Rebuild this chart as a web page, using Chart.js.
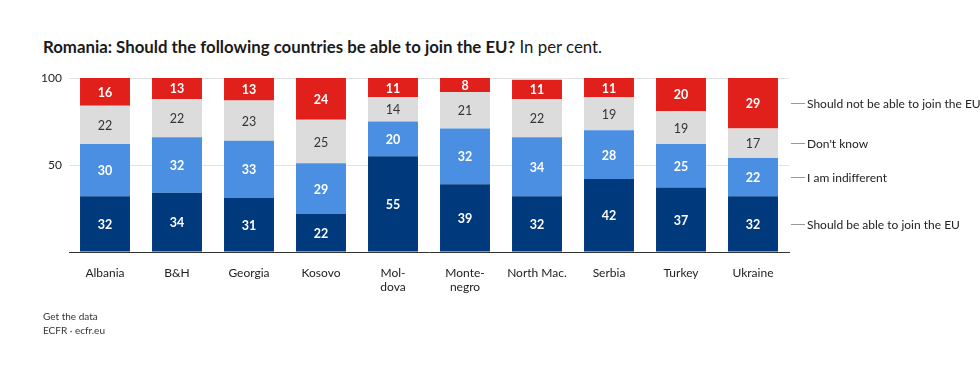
<!DOCTYPE html>
<html lang="en">
<head>
  <meta charset="UTF-8">
  <title>Romania: Should the following countries be able to join the EU?</title>
  <script src="https://cdn.jsdelivr.net/npm/chart.js"></script>
  <style>
    html, body { margin: 0; padding: 0; background: #fff; }
    body { width: 980px; height: 371px; position: relative; overflow: hidden; font-family: Lato, "Noto Sans", sans-serif; color: #1a1a1a; }
    #title { position: absolute; left: 43px; top: 36px; font-size: 16.8px; white-space: nowrap; }
    #title b { font-weight: 700; }
    #footer { position: absolute; left: 43px; top: 309px; font-size: 10px; line-height: 14px; color: #333; }
    #wrap { position: absolute; left: 0; top: 0; width: 980px; height: 371px; }
  </style>
</head>
<body>
  <div id="title"><b>Romania: Should the following countries be able to join the EU?</b> In per cent.</div>
  <div id="wrap"><canvas id="chart" width="980" height="371"></canvas></div>
  <div id="footer">Get the data<br>ECFR · ecfr.eu</div>

  <script>
    const countries = ["Albania", "B&H", "Georgia", "Kosovo", ["Mol-", "dova"], ["Monte-", "negro"], "North Mac.", "Serbia", "Turkey", "Ukraine"];
    const shouldJoin   = [32, 34, 31, 22, 55, 39, 32, 42, 37, 32];
    const indifferent  = [30, 32, 33, 29, 20, 32, 34, 28, 25, 22];
    const dontKnow     = [22, 22, 23, 25, 14, 21, 22, 19, 19, 17];
    const shouldNot    = [16, 13, 13, 24, 11, 8, 11, 11, 20, 29];
    const seriesNames  = ["Should be able to join the EU", "I am indifferent", "Don't know", "Should not be able to join the EU"];
    const yTicks = [50, 100];

    const colors = ["#003a7d", "#4a8fe2", "#dcdcdc", "#e1201c"];
    const textColors = ["#fff", "#fff", "#333", "#fff"];

    // numbers inside the segments + series names next to the last bar
    const labelPlugin = {
      id: "segLabels",
      afterDatasetsDraw(chart) {
        const ctx = chart.ctx;
        ctx.save();
        ctx.textAlign = "center";
        ctx.textBaseline = "middle";
        chart.data.datasets.forEach((ds, di) => {
          const meta = chart.getDatasetMeta(di);
          ctx.font = (di === 2 ? "400 " : "700 ") + "12.5px Lato, 'Noto Sans', sans-serif";
          ctx.fillStyle = textColors[di];
          meta.data.forEach((bar, i) => {
            const yMid = (bar.y + bar.base) / 2;
            ctx.fillText(String(ds.data[i]), bar.x, yMid + 1);
          });
          const last = meta.data[meta.data.length - 1];
          const yMid = (last.y + last.base) / 2;
          const xr = last.x + last.width / 2;
          ctx.strokeStyle = "#999";
          ctx.lineWidth = 1;
          ctx.beginPath();
          ctx.moveTo(xr + 13, Math.round(yMid) + 0.5);
          ctx.lineTo(xr + 27, Math.round(yMid) + 0.5);
          ctx.stroke();
          ctx.textAlign = "left";
          ctx.fillStyle = "#222";
          ctx.font = "400 12px Lato, 'Noto Sans', sans-serif";
          ctx.fillText(seriesNames[di], xr + 29, yMid + 1);
          ctx.textAlign = "center";
        });
        ctx.restore();
      }
    };

    new Chart(document.getElementById("chart"), {
      type: "bar",
      data: {
        labels: countries,
        datasets: [
          { label: seriesNames[0], data: shouldJoin, backgroundColor: colors[0] },
          { label: seriesNames[1], data: indifferent, backgroundColor: colors[1] },
          { label: seriesNames[2], data: dontKnow, backgroundColor: colors[2] },
          { label: seriesNames[3], data: shouldNot, backgroundColor: colors[3] }
        ]
      },
      options: {
        responsive: false,
        animation: false,
        layout: { padding: { left: 0, right: 191, top: 78, bottom: 74 } },
        datasets: { bar: { barPercentage: 0.694, categoryPercentage: 1, borderWidth: 0 } },
        plugins: { legend: { display: false }, tooltip: { enabled: false } },
        scales: {
          x: {
            stacked: true,
            grid: { display: false },
            border: { display: true, color: "#333", width: 1 },
            ticks: { color: "#222", font: { family: "Lato, 'Noto Sans', sans-serif", size: 12 }, padding: 6, maxRotation: 0, autoSkip: false },
            afterFit(scale) { scale.height = 45; }
          },
          y: {
            stacked: true,
            min: 0,
            max: 100,
            clip: false,
            afterBuildTicks(scale) { scale.ticks = [0].concat(yTicks).map(v => ({ value: v })); },
            afterFit(scale) { scale.width = 69; },
            grid: {
              drawTicks: false,
              color: c => c.tick.value === 0 ? "rgba(0,0,0,0)" : "#e3e3e3"
            },
            border: { display: false },
            ticks: {
              color: "#222",
              padding: 7,
              font: { family: "Lato, 'Noto Sans', sans-serif", size: 12 },
              callback: v => v === 0 ? "" : v
            }
          }
        }
      },
      plugins: [labelPlugin]
    });
  </script>
</body>
</html>
